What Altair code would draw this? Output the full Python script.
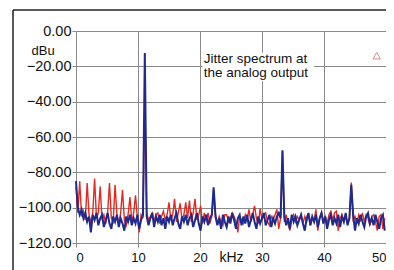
import altair as alt
import pandas as pd

# frequency grid step (kHz) of the analyser trace
step_khz = 0.3

# blue trace (dBu), one value per 0.3 kHz bin from 0 kHz
blue_db = [
    -85, -100, -104, -101, -106, -103, -108, -105, -114, -104,
    -107, -103, -110, -106, -104, -111, -107, -103, -109, -112,
    -105, -108, -104, -111, -106, -109, -113, -105, -108, -104,
    -110, -106, -109, -104, -112, -107, -104, -12.5, -105, -110,
    -106, -103, -111, -105, -108, -104, -110, -106, -112, -105,
    -108, -104, -110, -106, -103, -109, -112, -105, -108, -104,
    -110, -106, -104, -111, -107, -103, -109, -113, -105, -108,
    -104, -110, -106, -104, -88.5, -105, -110, -106, -112, -104,
    -108, -111, -105, -109, -103, -107, -112, -106, -104, -110,
    -105, -109, -104, -111, -107, -103, -108, -112, -105, -109,
    -106, -103, -110, -107, -104, -111, -106, -109, -105, -103,
    -106, -67.5, -105, -110, -106, -112, -104, -108, -105, -110,
    -107, -104, -109, -113, -106, -103, -110, -105, -108, -104,
    -111, -106, -103, -109, -105, -112, -107, -104, -110, -106,
    -109, -104, -111, -105, -108, -103, -110, -106, -87, -104,
    -113, -106, -109, -104, -108, -111, -105, -103, -109, -106,
    -110, -104, -108, -112, -106, -104, -113,
]

# red trace (dBu), same bins
red_db = [
    -88, -103, -85, -105, -102, -107, -86, -104, -109, -103,
    -83.5, -106, -103, -88, -107, -104, -109, -103, -86, -106,
    -108, -87, -104, -109, -103, -90, -107, -110, -104, -94,
    -108, -103, -93, -106, -114, -104, -106, -40, -103, -107,
    -105, -103, -108, -104, -103, -109, -105, -102, -107, -104,
    -97, -107, -104, -95, -108, -103, -97.5, -107, -104, -97,
    -106, -96, -108, -103, -95, -107, -104, -99, -109, -103,
    -107, -103, -109, -105, -90, -104, -109, -105, -108, -110,
    -104, -104, -108, -106, -103, -105, -108, -114, -105, -107,
    -109, -104, -107, -101, -108, -104, -99, -106, -109, -100.5,
    -107, -104, -103, -108, -110, -105, -107, -104, -101, -112,
    -106, -68, -108, -104, -109, -113, -106, -104, -108, -105,
    -107, -104, -109, -105, -108, -104, -110, -106, -108, -101,
    -113, -106, -103, -108, -105, -109, -104, -102, -107, -103,
    -102, -113, -106, -104, -108, -105, -109, -106, -85.8, -107,
    -105, -109, -104, -107, -103, -108, -104, -106, -110, -105,
    -104, -108, -113, -105, -104, -112, -106,
]

x_ticks = [0, 10, 20, 30, 40, 50]
y_ticks = [-120, -100, -80, -60, -40, -20, 0]

note_lines = ["Jitter spectrum at", "the analog output"]
note_khz = [20.6, 20.6]
note_db = [-16.1, -24.0]
note_box = {"x": [20.4], "x2": [38.4], "y": [-12.3], "y2": [-28.4]}
cursor = {"kHz": [48.5], "dBu": [-14.0]}

freq = [round(i * step_khz, 1) for i in range(len(blue_db))]
blue_df = pd.DataFrame({"kHz": freq, "dBu": blue_db})
red_df = pd.DataFrame({"kHz": freq, "dBu": red_db})

FONT = "Liberation Sans"
GRID = "#8a8a8a"

xscale = alt.Scale(domain=[0, 50], nice=False, zero=False)
yscale = alt.Scale(domain=[-120, 0], nice=False, zero=False)

xaxis = alt.Axis(
    values=x_ticks, format="d", title="kHz", grid=True, labelOverlap=False,
    labelFlush=True,
    gridColor=GRID, gridWidth=1, domain=False,
    tickColor=GRID, tickSize=4, labelPadding=4,
    labelFont=FONT, labelFontSize=13, labelColor="#111",
    titleFont=FONT, titleFontSize=14, titleFontWeight="normal", titleColor="#111",
    titleX=155, titleY=14, titleBaseline="middle", titleAlign="center",
)
yaxis = alt.Axis(
    values=y_ticks, format=".2f", title="dBu", grid=True, labelOverlap=False,
    gridColor=GRID, gridWidth=1, domain=False,
    tickColor=GRID, tickSize=4, labelPadding=1,
    labelFont=FONT, labelFontSize=14.5, labelColor="#111",
    titleFont=FONT, titleFontSize=13, titleFontWeight="normal", titleColor="#111",
    titleAngle=0, titleX=-45, titleY=19, titleAlign="left", titleBaseline="middle",
)

red_line = alt.Chart(red_df).mark_line(color="#e8281e", strokeWidth=1.4).encode(
    x=alt.X("kHz:Q", scale=xscale, axis=xaxis),
    y=alt.Y("dBu:Q", scale=yscale, axis=yaxis),
)
blue_line = alt.Chart(blue_df).mark_line(color="#1f2a8f", strokeWidth=2).encode(
    x=alt.X("kHz:Q", scale=xscale, axis=xaxis),
    y=alt.Y("dBu:Q", scale=yscale, axis=yaxis),
)

box = alt.Chart(pd.DataFrame(note_box)).mark_rect(color="white").encode(
    x=alt.X("x:Q", scale=xscale, axis=xaxis), x2="x2:Q",
    y=alt.Y("y:Q", scale=yscale, axis=yaxis), y2="y2:Q",
)

notes = alt.Chart(pd.DataFrame({"t": note_lines, "kHz": note_khz, "dBu": note_db})).mark_text(
    align="left", baseline="middle", font=FONT, fontSize=13.5, color="#111"
).encode(
    x=alt.X("kHz:Q", scale=xscale, axis=xaxis),
    y=alt.Y("dBu:Q", scale=yscale, axis=yaxis),
    text="t:N",
)

marker = alt.Chart(pd.DataFrame(cursor)).mark_point(
    shape="triangle-up", filled=False, color="#d05a5a", size=55, strokeWidth=1
).encode(
    x=alt.X("kHz:Q", scale=xscale, axis=xaxis),
    y=alt.Y("dBu:Q", scale=yscale, axis=yaxis),
)

# outer picture frame (left and top edges only, as in the cropped reference)
frame_top = alt.Chart(pd.DataFrame({"a": [0]})).mark_rule(color="#222", strokeWidth=1.5).encode(
    x=alt.value(-63), x2=alt.value(310), y=alt.value(-21)
)
frame_left = alt.Chart(pd.DataFrame({"a": [0]})).mark_rule(color="#222", strokeWidth=1.5).encode(
    x=alt.value(-63), y=alt.value(-21), y2=alt.value(239)
)

chart = alt.layer(box, red_line, blue_line, notes, marker, frame_top, frame_left).properties(
    width=310, height=212,
    autosize=alt.AutoSizeParams(type="none"),
    padding={"left": 68, "top": 23, "right": 0, "bottom": 27},
).configure_view(stroke=GRID, strokeWidth=1)

chart.save("out.html", embed_options={"renderer": "svg", "actions": False})
